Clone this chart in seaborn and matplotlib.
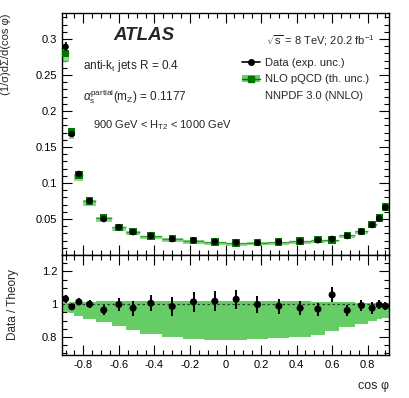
import numpy as np
import pandas as pd
import matplotlib
matplotlib.use("Agg")
import matplotlib.pyplot as plt
import seaborn as sns
from matplotlib.lines import Line2D
from matplotlib.patches import Patch
from matplotlib.ticker import MultipleLocator, FormatStrFormatter

# bin edges in cos(phi)
bin_edges = [-0.92, -0.88, -0.85, -0.80, -0.73, -0.64, -0.56, -0.48, -0.36, -0.24, -0.12, 0.0,
             0.12, 0.24, 0.36, 0.48, 0.56, 0.64, 0.73, 0.80, 0.85, 0.88, 0.92]

# measured distribution
data_xsec = [0.289, 0.168, 0.1125, 0.075, 0.050, 0.0385, 0.0318, 0.0266, 0.0222, 0.0203, 0.0182,
             0.0172, 0.0170, 0.0180, 0.0188, 0.0205, 0.0222, 0.0264, 0.0324, 0.0417, 0.0510, 0.0660]

# data / theory and its experimental uncertainty
ratio = [1.032, 0.984, 1.014, 1.000, 0.964, 0.998, 0.976, 1.006, 0.986, 1.014, 1.018,
         1.030, 0.998, 0.988, 0.976, 0.970, 1.057, 0.962, 0.992, 0.976, 0.996, 0.988]
ratio_err = [0.022, 0.020, 0.022, 0.025, 0.030, 0.040, 0.045, 0.050, 0.057, 0.062, 0.060,
             0.058, 0.050, 0.045, 0.042, 0.040, 0.045, 0.035, 0.035, 0.035, 0.028, 0.025]

# relative theory uncertainty band (lower / upper)
theory_lo = [0.955, 0.945, 0.930, 0.912, 0.890, 0.867, 0.840, 0.818, 0.802, 0.788, 0.780,
             0.784, 0.788, 0.794, 0.802, 0.814, 0.834, 0.858, 0.880, 0.900, 0.910, 0.915]
theory_hi = [1.010, 1.012, 1.014, 1.016, 1.018, 1.020, 1.020, 1.022, 1.022, 1.022, 1.022,
             1.022, 1.022, 1.020, 1.018, 1.016, 1.014, 1.012, 1.010, 1.008, 1.006, 1.006]

edges = np.array(bin_edges)
df = pd.DataFrame({
    "lo": edges[:-1],
    "hi": edges[1:],
    "data": data_xsec,
    "ratio": ratio,
    "ratio_err": ratio_err,
    "th_lo": theory_lo,
    "th_hi": theory_hi,
})
df["x"] = 0.5 * (df["lo"] + df["hi"])
df["w"] = df["hi"] - df["lo"]
df["theory"] = df["data"] / df["ratio"]
df["data_err"] = df["data"] * df["ratio_err"] / df["ratio"]

sns.set_theme(style="ticks")
plt.rcParams["font.family"] = ["Liberation Sans", "DejaVu Sans"]
plt.rcParams["mathtext.fontset"] = "custom"
plt.rcParams["mathtext.rm"] = "Liberation Sans"
plt.rcParams["mathtext.it"] = "Liberation Sans:italic"
plt.rcParams["mathtext.bf"] = "Liberation Sans:bold"

band_col = "#66cc66"
dark_green = "#007700"

fig = plt.figure(figsize=(4.09, 3.98), dpi=100)
ax = fig.add_axes([0.1516, 0.3593, 0.7995, 0.608])
axr = fig.add_axes([0.1516, 0.108, 0.7995, 0.2513], sharex=ax)

# top panel: theory band, central line, markers
ax.bar(df["lo"], df["theory"] * (df["th_hi"] - df["th_lo"]), width=df["w"],
       bottom=df["theory"] * df["th_lo"], align="edge", color=band_col, alpha=0.75,
       linewidth=0)
ax.hlines(df["theory"], df["lo"], df["hi"], color=dark_green, lw=1.0, alpha=0.6)
sns.scatterplot(data=df, x="x", y="theory", marker="s", s=28, color=dark_green,
                edgecolor="none", ax=ax, zorder=3)
ax.errorbar(df["x"], df["data"], yerr=df["data_err"], fmt="none", ecolor="black",
            elinewidth=1.2, zorder=4)
sns.scatterplot(data=df, x="x", y="data", marker="o", s=22, color="black",
                edgecolor="none", ax=ax, zorder=5)

# ratio panel
axr.bar(df["lo"], df["th_hi"] - df["th_lo"], width=df["w"], bottom=df["th_lo"],
        align="edge", color=band_col, linewidth=0)
axr.axhline(1.0, color="#224422", lw=0.9, ls=(0, (2, 2)))
axr.errorbar(df["x"], df["ratio"], yerr=df["ratio_err"], fmt="none", ecolor="black",
             elinewidth=1.4, zorder=4)
sns.scatterplot(data=df, x="x", y="ratio", marker="o", s=26, color="black",
                edgecolor="none", ax=axr, zorder=5)

ax.set_xlim(-0.92, 0.92)
ax.set_ylim(0.0, 0.336)
axr.set_ylim(0.69, 1.3)

for a in (ax, axr):
    a.xaxis.set_major_locator(MultipleLocator(0.2))
    a.xaxis.set_minor_locator(MultipleLocator(0.05))
    a.tick_params(which="both", direction="in", top=True, right=True, labelsize=8,
                  colors="black", width=0.8)
    a.tick_params(which="major", length=7)
    a.tick_params(which="minor", length=3.5)
    for s in a.spines.values():
        s.set_linewidth(1.0)
        s.set_color("black")

ax.yaxis.set_major_locator(MultipleLocator(0.05))
ax.yaxis.set_minor_locator(MultipleLocator(0.01))
ax.yaxis.set_major_formatter(FormatStrFormatter("%g"))
ax.set_yticks([0.05, 0.1, 0.15, 0.2, 0.25, 0.3])
ax.tick_params(labelbottom=False)
axr.yaxis.set_major_locator(MultipleLocator(0.2))
axr.yaxis.set_minor_locator(MultipleLocator(0.05))
axr.yaxis.set_major_formatter(FormatStrFormatter("%g"))
axr.xaxis.set_major_formatter(FormatStrFormatter("%g"))

ax.set_xlabel("")
ax.set_ylabel(r"(1/σ)dΣ/d(cos φ)", fontsize=8, loc="top")
ax.yaxis.set_label_coords(-0.155, 1.0)
axr.set_ylabel("Data / Theory", fontsize=8.5)
axr.yaxis.set_label_coords(-0.13, 0.5)
axr.set_xlabel("cos φ", fontsize=9, loc="right")
axr.xaxis.set_label_coords(1.0, -0.25)

# annotations
ax.text(0.156, 0.909, "ATLAS", transform=ax.transAxes, fontsize=13.5, fontweight="bold",
        fontstyle="italic", va="center", ha="left")
ax.text(0.955, 0.887, r"$\sqrt{\mathrm{s}}$ = 8 TeV; 20.2 fb$^{\mathrm{-1}}$", transform=ax.transAxes,
        fontsize=8, va="center", ha="right")
ax.text(0.065, 0.78, r"anti-k$_{\mathrm{t}}$ jets R = 0.4", transform=ax.transAxes,
        fontsize=8.5, va="center", ha="left")
ax.text(0.065, 0.655, r"$\alpha_{\mathrm{s}}^{\mathrm{partial}}$(m$_{\mathrm{Z}}$) = 0.1177",
        transform=ax.transAxes, fontsize=8.5, va="center", ha="left")
ax.text(0.095, 0.535, r"900 GeV < H$_{\mathrm{T2}}$ < 1000 GeV", transform=ax.transAxes,
        fontsize=8, va="center", ha="left")

h_data = Line2D([], [], color="black", marker="o", markersize=4, lw=1.2)
h_th = (Patch(facecolor=band_col, edgecolor="none"),
        Line2D([], [], color=dark_green, marker="s", markersize=4.5, lw=1.0))
h_empty = Line2D([], [], color="none")
ax.legend([h_data, h_th, h_empty],
          ["Data (exp. unc.)", "NLO pQCD (th. unc.)", "NNPDF 3.0 (NNLO)"],
          loc="upper left", bbox_to_anchor=(0.55, 0.815), frameon=False, fontsize=8,
          handlelength=1.6, handletextpad=0.45, labelspacing=0.6, borderaxespad=0,
          borderpad=0)

fig.savefig("out.png", dpi=100)
